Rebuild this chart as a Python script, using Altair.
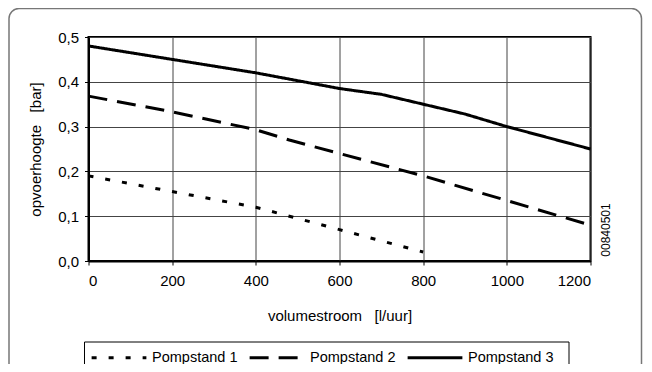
import altair as alt
import pandas as pd

flow1 = [0, 200, 400, 600, 800]
head1 = [0.19, 0.155, 0.12, 0.07, 0.02]
flow2 = [0, 200, 400, 480, 600, 800, 1000, 1200]
head2 = [0.368, 0.333, 0.293, 0.27, 0.24, 0.19, 0.135, 0.08]
flow3 = [0, 200, 400, 600, 700, 800, 900, 1000, 1200]
head3 = [0.48, 0.45, 0.42, 0.385, 0.372, 0.35, 0.328, 0.30, 0.25]
series = ["Pompstand 1", "Pompstand 2", "Pompstand 3"]
x_ticks = [0, 200, 400, 600, 800, 1000, 1200]
y_ticks = [0.0, 0.1, 0.2, 0.3, 0.4, 0.5]
code_text = "00840501"

rows = []
for name, fl, hd in zip(series, [flow1, flow2, flow3], [head1, head2, head3]):
    for f, h in zip(fl, hd):
        rows.append({"flow": f, "head": h, "serie": name})
df = pd.DataFrame(rows)

FONT = "Liberation Sans"
W, H = 502, 224

lines = alt.Chart(df).mark_line(strokeWidth=3, color="black", strokeCap="butt").encode(
    x=alt.X("flow:Q", scale=alt.Scale(domain=[0, 1200], nice=False),
            axis=alt.Axis(values=x_ticks, title="volumestroom\u00a0\u00a0\u00a0[l/uur]",
                          format="d", titlePadding=20)),
    y=alt.Y("head:Q", scale=alt.Scale(domain=[0, 0.5], nice=False),
            axis=alt.Axis(values=y_ticks, title="opvoerhoogte\u00a0\u00a0\u00a0[bar]",
                          labelExpr="replace(format(datum.value, '.1f'), '.', ',')",
                          titlePadding=14)),
    strokeDash=alt.StrokeDash("serie:N", scale=alt.Scale(domain=series,
                              range=[[5, 12], [19, 10], [1, 0]]),
                              legend=alt.Legend(title=None)),
    detail="serie:N",
)

frame = alt.Chart(pd.DataFrame({"a": [0]})).mark_rect(
    fill=None, stroke="#777", strokeWidth=1.5, cornerRadius=10
).encode(x=alt.value(-79.5), x2=alt.value(553), y=alt.value(-28.5), y2=alt.value(345))

legend_box = alt.Chart(pd.DataFrame({"a": [0]})).mark_rect(
    fill=None, stroke="black", strokeWidth=1
).encode(x=alt.value(-4), x2=alt.value(480.5), y=alt.value(305), y2=alt.value(345))

code = alt.Chart(pd.DataFrame({"t": [code_text]})).mark_text(
    angle=270, font=FONT, fontSize=12, color="black"
).encode(x=alt.value(517), y=alt.value(193), text="t:N")

chart = alt.layer(frame, legend_box, lines, code).properties(
    width=W, height=H,
    autosize=alt.AutoSizeParams(type="none"),
    padding={"left": 80.5, "top": 29, "right": 53, "bottom": 103},
).configure_view(stroke="black", strokeWidth=2).configure_axis(
    labelFont=FONT, titleFont=FONT, labelFontSize=15, titleFontSize=15,
    labelColor="black", titleColor="black", titleFontWeight="normal",
    grid=True, gridColor="#444", gridWidth=1,
    domainColor="black", domainWidth=2, tickColor="black", tickSize=4,
    labelPadding=6,
).configure_axisX(labelPadding=8).configure_legend(
    orient="none", legendX=1.5, legendY=291.5, direction="horizontal",
    padding=0, symbolType="stroke", symbolSize=3000, symbolStrokeWidth=3,
    symbolStrokeColor="black", labelFont=FONT, labelFontSize=14.5,
    labelColor="black", labelOffset=4, columnPadding=5, symbolOffset=0,
)

chart.save("out.html", embed_options={"renderer": "svg", "actions": False})
